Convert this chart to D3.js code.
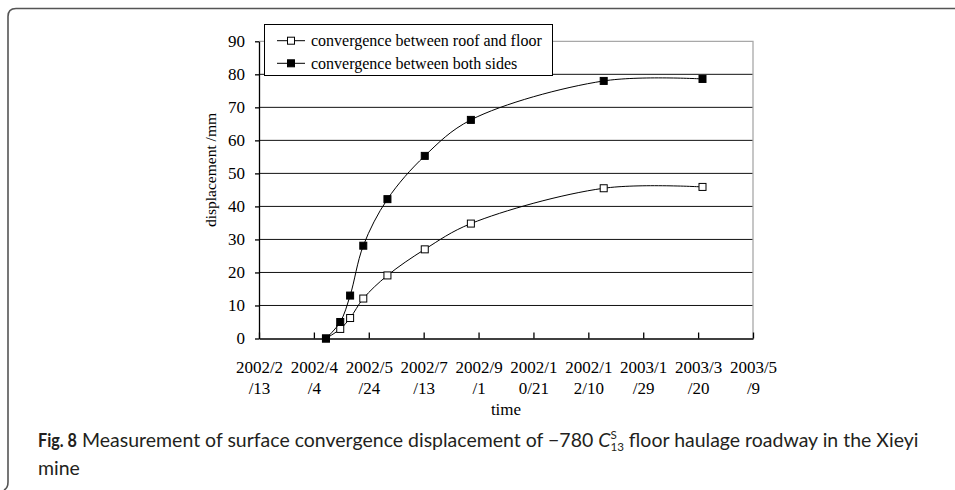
<!DOCTYPE html>
<html>
<head>
<meta charset="utf-8">
<script src="https://cdn.jsdelivr.net/npm/d3@7"></script>
<style>
  html, body { margin: 0; padding: 0; background: #fff; }
  svg { display: block; }
</style>
</head>
<body>
<svg id="chart" width="955" height="490"></svg>
<script>
// Measurement dates and displacement (mm)
const dates = ["2002/4/15", "2002/4/28", "2002/5/7", "2002/5/19", "2002/6/10",
               "2002/7/14", "2002/8/25", "2002/12/24", "2003/3/24"];
const roofFloor = [0, 2.9, 6.2, 12.1, 19.1, 27.0, 34.8, 45.5, 45.9];
const bothSides = [0, 5.0, 13.0, 28.1, 42.2, 55.3, 66.2, 78.0, 78.6];

// Axis tick labels
const xTickLabels = ["2002/2/13", "2002/4/4", "2002/5/24", "2002/7/13", "2002/9/1",
                     "2002/10/21", "2002/12/10", "2003/1/29", "2003/3/20", "2003/5/9"];
const yTicks = [0, 10, 20, 30, 40, 50, 60, 70, 80, 90];

const seriesNames = ["convergence between roof and floor", "convergence between both sides"];

const parse = d3.timeParse("%Y/%m/%d");
const svg = d3.select("#chart");
const serif = "'Liberation Serif', 'Times New Roman', serif";

const plot = { left: 259, right: 753, top: 41.3, bottom: 338.5 };

const x = d3.scaleTime()
  .domain([parse(xTickLabels[0]), parse(xTickLabels[xTickLabels.length - 1])])
  .range([plot.left, plot.right]);
const y = d3.scaleLinear().domain([0, 90]).range([plot.bottom, plot.top]);

// Figure frame
svg.append("path")
  .attr("d", "M955,8.5 H16 Q8,8.5 8,16.5 V482 Q8,488 4,490")
  .attr("fill", "none").attr("stroke", "#555").attr("stroke-width", 1.6);

// Horizontal gridlines
svg.append("g").selectAll("line")
  .data(yTicks.filter(v => v > 0 && v < 90))
  .join("line")
  .attr("x1", plot.left).attr("x2", plot.right)
  .attr("y1", d => y(d)).attr("y2", d => y(d))
  .attr("stroke", "#111").attr("stroke-width", 1);

// Plot area border (top and right)
svg.append("path")
  .attr("d", `M${plot.left},${y(90)} H${plot.right} V${plot.bottom}`)
  .attr("fill", "none").attr("stroke", "#a8a8a8").attr("stroke-width", 1.3);

// Y axis
const yAxis = svg.append("g")
  .attr("transform", `translate(${plot.left},0)`)
  .call(d3.axisLeft(y).tickValues(yTicks).tickSize(4).tickPadding(10).tickSizeOuter(0));
yAxis.select(".domain").attr("stroke", "#000").attr("stroke-width", 1.3);
yAxis.selectAll(".tick line").attr("stroke", "#000").attr("stroke-width", 1.3);
yAxis.selectAll("text").attr("font-family", serif).attr("font-size", 17).attr("fill", "#000");

// X axis
const xAxis = svg.append("g")
  .attr("transform", `translate(0,${plot.bottom})`)
  .call(d3.axisBottom(x).tickValues(xTickLabels.map(parse)).tickSizeInner(-6).tickSizeOuter(0)
    .tickFormat((d, i) => xTickLabels[i]));
xAxis.select(".domain").attr("stroke", "#000").attr("stroke-width", 1.3);
xAxis.selectAll(".tick line").attr("stroke", "#000").attr("stroke-width", 1.3);
xAxis.selectAll(".tick text").each(function (d, i) {
  const s = xTickLabels[i];
  const t = d3.select(this).text(null)
    .attr("font-family", serif).attr("font-size", 17).attr("fill", "#000")
    .attr("y", 0).attr("dy", null);
  t.append("tspan").attr("x", 0).attr("y", 34).text(s.slice(0, 6));
  t.append("tspan").attr("x", 0).attr("y", 55).text(s.slice(6));
});

// Axis titles
svg.append("text")
  .attr("x", (plot.left + plot.right) / 2).attr("y", 415)
  .attr("text-anchor", "middle")
  .attr("font-family", serif).attr("font-size", 17)
  .text("time");
svg.append("text")
  .attr("transform", "translate(216,170) rotate(-90)")
  .attr("text-anchor", "middle")
  .attr("font-family", serif).attr("font-size", 15.5)
  .text("displacement /mm");

// Series
const line = d3.line()
  .x(d => x(d.date)).y(d => y(d.value))
  .curve(d3.curveCatmullRom.alpha(0.5));

const series = [
  { name: seriesNames[0], values: roofFloor, fill: "#fff" },
  { name: seriesNames[1], values: bothSides, fill: "#000" }
].map(s => ({ ...s, points: dates.map((d, i) => ({ date: parse(d), value: s.values[i] })) }));

const ms = 7;
series.forEach(s => {
  svg.append("path")
    .attr("d", line(s.points))
    .attr("fill", "none").attr("stroke", "#000").attr("stroke-width", 1);
  svg.append("g").selectAll("rect")
    .data(s.points)
    .join("rect")
    .attr("x", d => x(d.date) - ms / 2).attr("y", d => y(d.value) - ms / 2)
    .attr("width", ms).attr("height", ms)
    .attr("fill", s.fill).attr("stroke", "#000").attr("stroke-width", 1);
});

// Legend
const legend = svg.append("g");
legend.append("rect")
  .attr("x", 264.5).attr("y", 24.5).attr("width", 288).attr("height", 51)
  .attr("fill", "#fff").attr("stroke", "#000").attr("stroke-width", 1);
series.forEach((s, i) => {
  const cy = 40.7 + i * 22.6;
  legend.append("line")
    .attr("x1", 277).attr("x2", 305).attr("y1", cy).attr("y2", cy)
    .attr("stroke", "#000").attr("stroke-width", 1);
  legend.append("rect")
    .attr("x", 291 - ms / 2).attr("y", cy - ms / 2).attr("width", ms).attr("height", ms)
    .attr("fill", s.fill).attr("stroke", "#000").attr("stroke-width", 1);
  legend.append("text")
    .attr("x", 311).attr("y", cy + 5.5)
    .attr("font-family", serif).attr("font-size", 16)
    .text(s.name);
});

// Caption (narrowed horizontally to a condensed look)
const sans = "Lato, 'Open Sans', sans-serif";
const capSize = 18.5;
const figLabel = svg.append("text")
  .attr("font-family", sans).attr("font-weight", "bold").attr("font-size", capSize)
  .attr("fill", "#231f20")
  .text("Fig. 8");
const figLen = figLabel.node().getComputedTextLength();
figLabel.attr("transform", `translate(38,447) scale(${39 / figLen},1)`);

const cap = svg.append("text")
  .attr("font-family", sans).attr("font-size", capSize).attr("fill", "#231f20");
cap.append("tspan").text("Measurement of surface convergence displacement of \u2212780 ");
cap.append("tspan").attr("font-style", "italic").text("C");
cap.append("tspan").attr("font-size", 11).attr("dy", -8).text("S");
cap.append("tspan").attr("font-size", 11).attr("dx", -6).attr("dy", 12).text("13");
cap.append("tspan").attr("dy", -4).text(" floor haulage roadway in the Xieyi");
const capLen = cap.node().getComputedTextLength();
const sx = 843 / capLen;
cap.attr("transform", `translate(82,447) scale(${sx},1)`);
svg.append("text")
  .attr("transform", `translate(38,475) scale(${sx},1)`)
  .attr("font-family", sans).attr("font-size", capSize).attr("fill", "#231f20")
  .text("mine");
</script>
</body>
</html>
